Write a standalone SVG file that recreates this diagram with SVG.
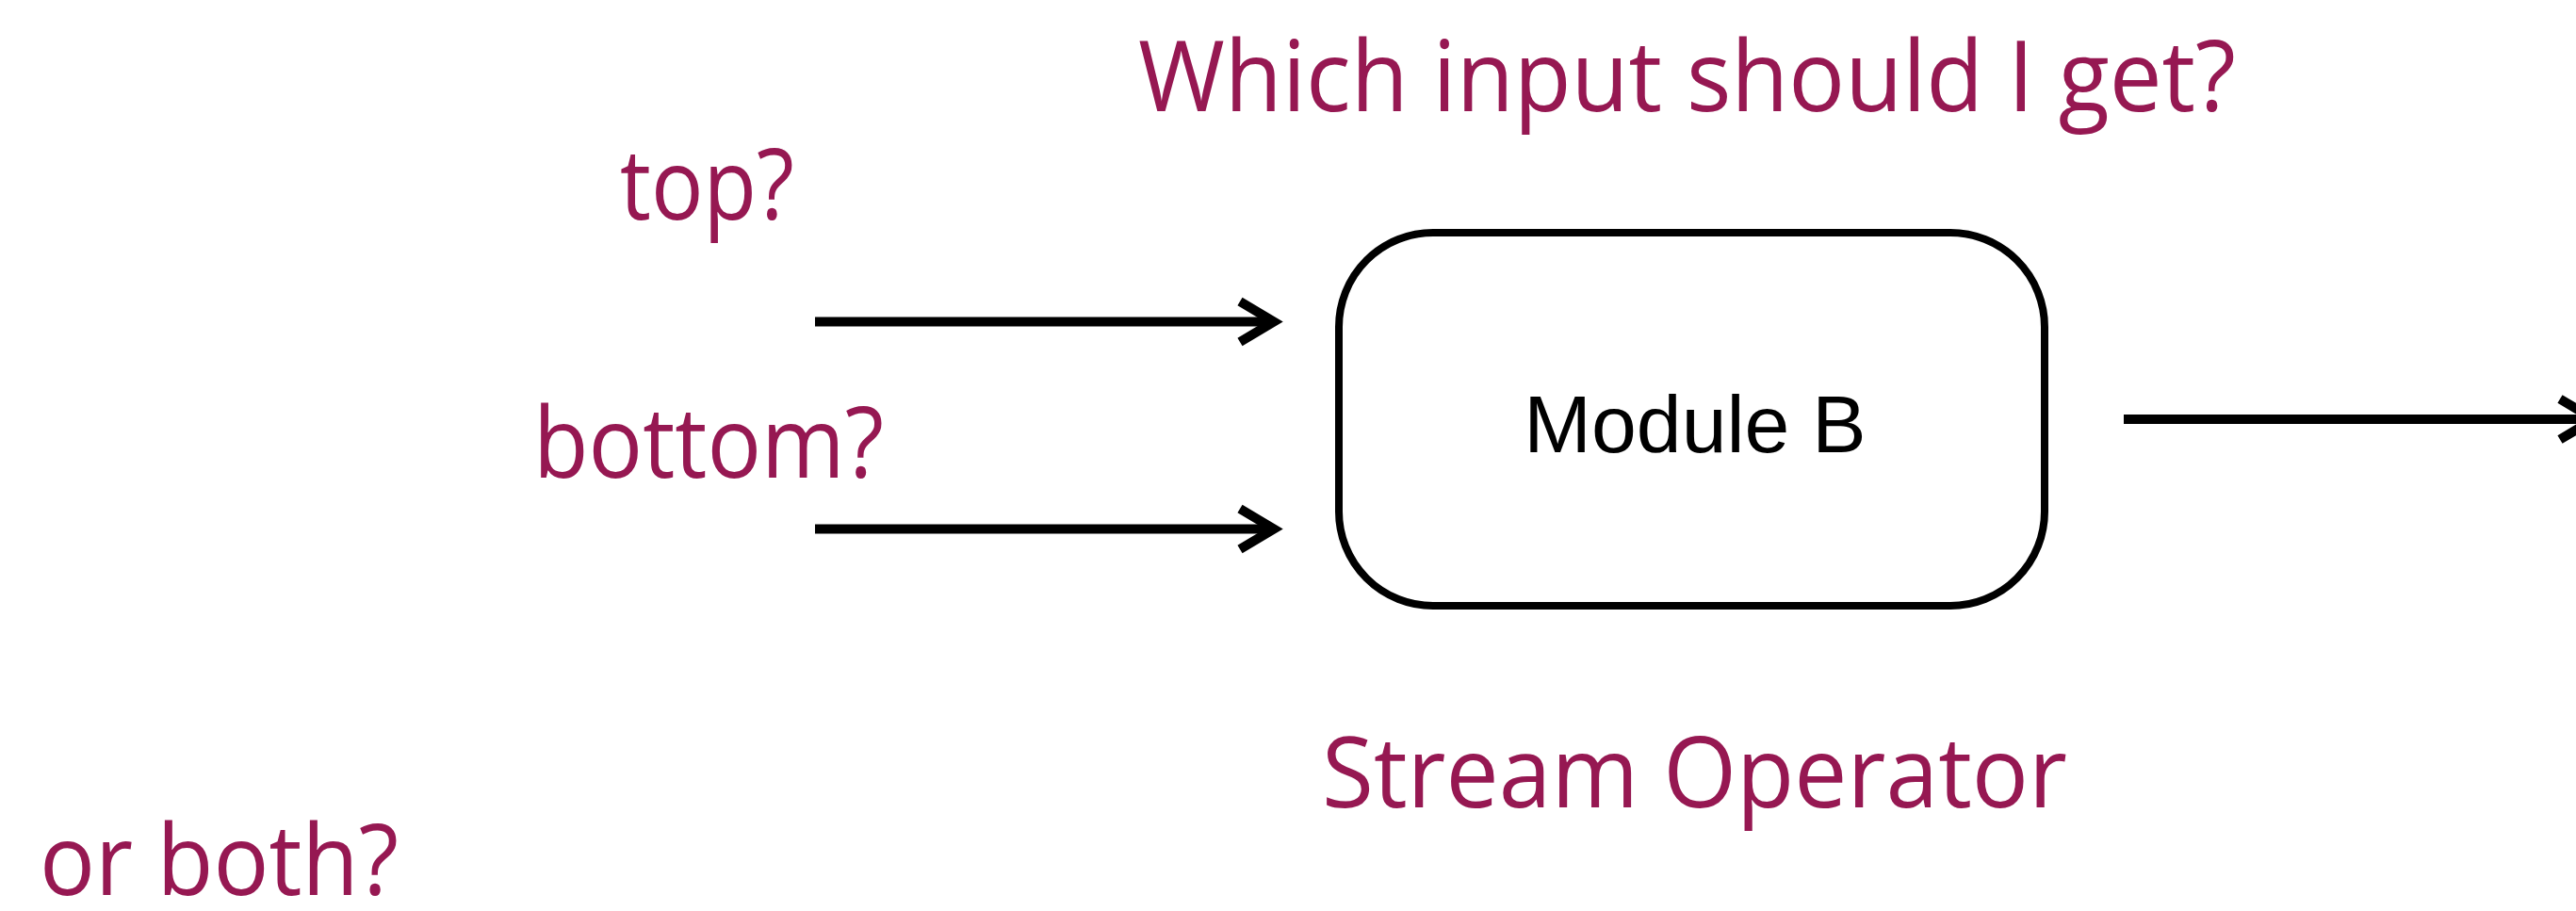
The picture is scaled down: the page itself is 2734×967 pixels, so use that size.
<svg xmlns="http://www.w3.org/2000/svg" width="2734" height="967" viewBox="0 0 2734 967">
  <style>
    .note { font-family: "Open Sans", "Liberation Sans", sans-serif; font-size: 104px; fill: #961852; }
    .label { font-family: "Liberation Sans", Arial, sans-serif; font-size: 86px; fill: #000; }
    .box { fill: #fff; stroke: #000; stroke-width: 8; }
    .wire { fill: none; stroke: #000; stroke-width: 10; marker-end: url(#head); }
  </style>
  <defs>
    <marker id="head" markerUnits="userSpaceOnUse" markerWidth="80" markerHeight="80" viewBox="-50 -40 80 80" refX="0" refY="0" orient="auto" overflow="visible">
      <path d="M-36,-21.5 L0,0 L-36,21.5" fill="none" stroke="#000" stroke-width="10" stroke-linejoin="miter"/>
    </marker>
  </defs>

  <rect width="2734" height="967" fill="#fff"/>

  <!-- connectors -->
  <g id="connectors">
    <path class="wire" d="M865,341.5 H1352"/>
    <path class="wire" d="M865,561.5 H1352"/>
    <path class="wire" d="M2254,445 H2753"/>
  </g>

  <!-- operator node -->
  <g id="module-b">
    <rect class="box" x="1421" y="247" width="749" height="396" rx="100" ry="100"/>
    <text class="label" x="1799" y="480" text-anchor="middle">Module B</text>
  </g>

  <!-- annotations -->
  <g id="question">
    <text class="note" x="1208" y="118" textLength="1165" lengthAdjust="spacingAndGlyphs">Which input should I get?</text>
  </g>
  <g id="top-label">
    <text class="note" x="658" y="233" textLength="185" lengthAdjust="spacingAndGlyphs">top?</text>
  </g>
  <g id="bottom-label">
    <text class="note" x="566" y="507" textLength="372" lengthAdjust="spacingAndGlyphs">bottom?</text>
  </g>
  <g id="caption">
    <text class="note" x="1403" y="857" textLength="791" lengthAdjust="spacingAndGlyphs">Stream Operator</text>
  </g>
  <g id="both-label">
    <text class="note" x="42" y="950" textLength="381" lengthAdjust="spacingAndGlyphs">or both?</text>
  </g>
</svg>
